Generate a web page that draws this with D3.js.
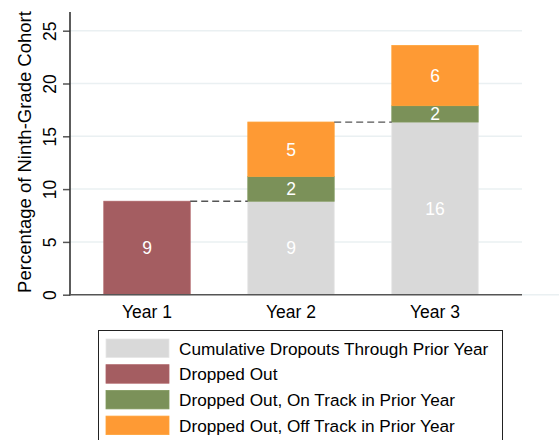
<!DOCTYPE html>
<html><head><meta charset="utf-8">
<script src="https://cdn.jsdelivr.net/npm/d3@7"></script>
<style>body{margin:0;background:#fff;} svg{display:block;font-family:"Liberation Sans",Arial,sans-serif;}</style>
</head><body><svg id="c" width="559" height="440"></svg>
<script>
const years = ["Year 1", "Year 2", "Year 3"];
const seriesNames = ["Cumulative Dropouts Through Prior Year", "Dropped Out", "Dropped Out, On Track in Prior Year", "Dropped Out, Off Track in Prior Year"];
const seriesColors = ["#d9d9d9", "#a45d61", "#7b9159", "#fe9a34"];
const cumulative = [0, 8.85, 16.35];
const droppedOut = [8.85, 0, 0];
const onTrack = [0, 2.35, 1.55];
const offTrack = [0, 5.15, 5.7];
const segLabels = [["", "9", "16"], ["9", "", ""], ["", "2", "2"], ["", "5", "6"]];
const yTicks = [0, 5, 10, 15, 20, 25];

const svg = d3.select("#c");
const x = d3.scaleBand().domain(years).range([75, 507]).paddingInner(0.4).paddingOuter(0.2);
const y = d3.scaleLinear().domain([0, 25]).range([294.7, 30.7]);
const FS = 17.5;

// gridlines
svg.append("g").selectAll("line").data(yTicks.filter(d => d > 0)).join("line")
  .attr("x1", 70).attr("x2", 522).attr("y1", d => y(d)).attr("y2", d => y(d))
  .attr("stroke", "#eaf0f2").attr("stroke-width", 1.5);
svg.append("line").attr("x1", 522).attr("x2", 559).attr("y1", y(0)).attr("y2", y(0))
  .attr("stroke", "#eaf0f2").attr("stroke-width", 1.5);

// stacked data
const seriesVals = [cumulative, droppedOut, onTrack, offTrack];
const rows = years.map((yr, i) => {
  const o = {year: yr};
  seriesNames.forEach((s, k) => o[s] = seriesVals[k][i]);
  return o;
});
const stack = d3.stack().keys(seriesNames)(rows);

const gBars = svg.append("g");
stack.forEach((layer, k) => {
  layer.forEach((d, i) => {
    if (d[1] - d[0] <= 0) return;
    gBars.append("rect")
      .attr("x", x(years[i])).attr("width", x.bandwidth())
      .attr("y", y(d[1])).attr("height", y(d[0]) - y(d[1]))
      .attr("fill", seriesColors[k])
      .attr("stroke", d3.color(seriesColors[k]).brighter(0.15)).attr("stroke-width", 0.8);
    const lab = segLabels[k][i];
    if (lab) {
      gBars.append("text")
        .attr("x", x(years[i]) + x.bandwidth() / 2)
        .attr("y", y((d[0] + d[1]) / 2))
        .attr("dy", "0.36em")
        .attr("text-anchor", "middle").attr("fill", "#fff").attr("font-size", FS)
        .text(lab);
    }
  });
});

// dashed connectors
const totals = rows.map((r, i) => seriesNames.reduce((a, s) => a + r[s], 0));
for (let i = 0; i < years.length - 1; i++) {
  svg.append("line")
    .attr("x1", x(years[i]) + x.bandwidth()).attr("x2", x(years[i + 1]))
    .attr("y1", y(totals[i])).attr("y2", y(totals[i]))
    .attr("stroke", "#555").attr("stroke-width", 1.3).attr("stroke-dasharray", "7,4");
}

// y axis
const yAxis = d3.axisLeft(y).tickValues(yTicks).tickSize(7).tickPadding(0);
const gy = svg.append("g").attr("transform", "translate(70,0)").call(yAxis);
gy.select(".domain").remove();
gy.selectAll(".tick line").attr("stroke", "#555").attr("stroke-width", 1.5);
gy.selectAll(".tick text").attr("font-size", FS).attr("fill", "#000")
  .attr("font-family", "Liberation Sans, Arial, sans-serif")
  .attr("transform", "translate(-20,0) rotate(-90)").attr("text-anchor", "middle")
  .attr("x", 0).attr("dy", "0.36em");
svg.append("line").attr("x1", 70).attr("x2", 70).attr("y1", 12).attr("y2", 295.5)
  .attr("stroke", "#333").attr("stroke-width", 1.6);

// x axis
const gx = svg.append("g").attr("transform", "translate(0,294.7)")
  .call(d3.axisBottom(x).tickSize(0).tickPadding(0));
gx.select(".domain").remove();
gx.selectAll(".tick text").attr("font-size", FS).attr("fill", "#000")
  .attr("font-family", "Liberation Sans, Arial, sans-serif").attr("dy", "23");
svg.append("line").attr("x1", 70).attr("x2", 522).attr("y1", 294.7).attr("y2", 294.7)
  .attr("stroke", "#555").attr("stroke-width", 1.5);

// y title
svg.append("text").attr("transform", "translate(31,152) rotate(-90)")
  .attr("text-anchor", "middle").attr("font-size", 18.5).attr("fill", "#000")
  .text("Percentage of Ninth-Grade Cohort");

// legend
const lg = svg.append("g");
lg.append("rect").attr("x", 98.5).attr("y", 330.5).attr("width", 404).attr("height", 120)
  .attr("fill", "#fff").attr("stroke", "#222").attr("stroke-width", 1);
seriesNames.forEach((s, k) => {
  const yy = 339 + k * 25.7;
  lg.append("rect").attr("x", 106).attr("y", yy).attr("width", 63).attr("height", 18.5)
    .attr("fill", seriesColors[k]).attr("stroke", d3.color(seriesColors[k]).brighter(0.15)).attr("stroke-width", 0.8);
  lg.append("text").attr("x", 179).attr("y", yy + 9.5).attr("dy", "0.36em")
    .attr("font-size", 17.2).attr("fill", "#000").text(s);
});
</script></body></html>
